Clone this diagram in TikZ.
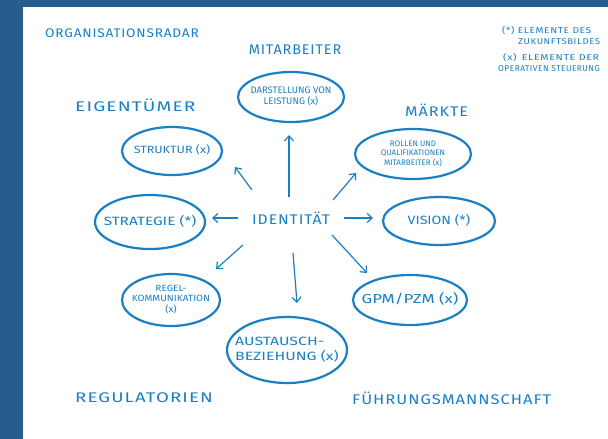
\documentclass[tikz,border=0pt]{standalone}
\usepackage{fontspec}
\setmainfont{Fira Sans}
\usetikzlibrary{shapes.geometric,arrows.meta,calc}
\definecolor{frameblue}{HTML}{275D8E}
\definecolor{inkblue}{HTML}{1A7FC3}
\newcommand\hwc[2]{\scalebox{#1}[1]{\begin{tabular}{@{}c@{}}#2\end{tabular}}}
\newcommand\hwl[2]{\scalebox{#1}[1]{\begin{tabular}{@{}l@{}}#2\end{tabular}}}
\begin{document}
\begin{tikzpicture}[x=1pt,y=-1pt,
  bub/.style={ellipse,draw=inkblue,line width=2.2pt,inner sep=0pt},
  btxt/.style={text=inkblue,inner sep=0pt},
  lbl/.style={text=inkblue,inner sep=0pt,font=\fontsize{14}{16}\selectfont\addfontfeature{LetterSpace=6}},
  leg/.style={text=inkblue,inner sep=0pt,font=\fontsize{8.5}{9}\selectfont\addfontfeature{LetterSpace=6}},
  arr/.style={draw=inkblue,line width=1.2pt,-{Straight Barb[length=5pt,width=9pt]}},
]
\fill[frameblue] (0,0) rectangle (608,439);
\fill[white] (23,7) rectangle (608,439);
\useasboundingbox (0,0) rectangle (608,439);

% headings
\node[lbl,anchor=west,font=\fontsize{12.5}{14}\selectfont\addfontfeature{LetterSpace=6}] (title) at (45,33) {\scalebox{1.09}[1]{ORGANISATIONSRADAR}};
\node[lbl] (mit) at (295,50) {\scalebox{1.03}[1]{MITARBEITER}};
\node[lbl,anchor=west] (eig) at (75,105) {\scalebox{1.36}[1]{EIGENTÜMER}};
\node[lbl,anchor=west] (mae) at (405,110) {\scalebox{1.15}[1]{MÄRKTE}};
\node[lbl,anchor=west] (regu) at (75,398) {\scalebox{1.33}[1]{REGULATORIEN}};
\node[lbl,anchor=west] (fue) at (352,398) {\scalebox{1.18}[1]{FÜHRUNGSMANNSCHAFT}};

% legend
\node[leg,anchor=west] (l1) at (502,31) {\scalebox{1.2}[1]{(*) ELEMENTE DES}};
\node[leg,anchor=west] (l2) at (518,42) {\scalebox{1.13}[1]{ZUKUNFTSBILDES}};
\node[leg,anchor=west] (l3) at (503,58) {\scalebox{1.25}[1]{(x)\enspace ELEMENTE DER}};
\node[leg,anchor=west] (l4) at (498,69) {\scalebox{0.98}[1]{OPERATIVEN STEUERUNG}};

% center
\node[ellipse,minimum width=108pt,minimum height=56pt,inner sep=0pt,
  label={[btxt,font=\fontsize{14}{16}\selectfont\addfontfeature{LetterSpace=6}]center:{\scalebox{1.12}[1]{IDENTITÄT}}}] (id) at (291,218) {};

% bubbles
\node[bub,minimum width=106pt,minimum height=50pt,
  label={[btxt,font=\fontsize{9.5}{11}\selectfont]center:{\hwc{1.0}{DARSTELLUNG VON\\LEISTUNG (x)}}}] (dar) at (291,97) {};
\node[bub,minimum width=100pt,minimum height=48pt,
  label={[btxt,font=\fontsize{10.5}{12}\selectfont]center:{\hwc{1.2}{STRUKTUR (x)}}}] (str) at (172,151) {};
\node[bub,minimum width=116pt,minimum height=50pt,
  label={[btxt,font=\fontsize{8}{9.5}\selectfont]center:{\hwc{1.0}{ROLLEN UND\\QUALIFIKATIONEN\\MITARBEITER (x)}}}] (rol) at (413,154) {};
\node[bub,minimum width=110pt,minimum height=54pt,
  label={[btxt,font=\fontsize{12}{13}\selectfont]center:{\hwc{1.28}{STRATEGIE (*)}}}] (strat) at (150,222) {};
\node[bub,minimum width=112pt,minimum height=48pt,
  label={[btxt,font=\fontsize{12}{13}\selectfont]center:{\hwc{1.18}{VISION (*)}}}] (vis) at (439,221) {};
\node[bub,minimum width=98pt,minimum height=52pt,
  label={[btxt,font=\fontsize{9}{10.5}\selectfont]center:{\hwc{1.12}{REGEL-\\KOMMUNIKATION\\(x)}}}] (regk) at (171,300) {};
\node[bub,minimum width=114pt,minimum height=50pt,
  label={[btxt,font=\fontsize{13}{14}\selectfont]center:{\hwc{1.3}{GPM/PZM (x)}}}] (gpm) at (410,300) {};
\node[bub,minimum width=120pt,minimum height=66pt,
  label={[btxt,font=\fontsize{12}{15}\selectfont]center:{\hwl{1.32}{AUSTAUSCH-\\BEZIEHUNG (x)}}}] (aus) at (287,350) {};

% arrows
\draw[arr] ($(id)+(-2,-21)$) -- ($(dar)+(-2,38)$);
\draw[arr] ($(id)+(-39,-28)$) -- ($(str)+(63,16)$);
\draw[arr] ($(id)+(42,-18)$) -- ($(rol)+(-57,19)$);
\draw[arr] ($(id)+(-53,0)$) -- ($(strat)+(62,-4)$);
\draw[arr] ($(id)+(53,0)$) -- ($(vis)+(-66,-3)$);
\draw[arr] ($(id)+(-48,27)$) -- ($(regk)+(45,-31)$);
\draw[arr] ($(id)+(2,35)$) -- ($(aus)+(10,-47)$);
\draw[arr] ($(id)+(41,17)$) -- ($(gpm)+(-43,-27)$);
\end{tikzpicture}
\end{document}
